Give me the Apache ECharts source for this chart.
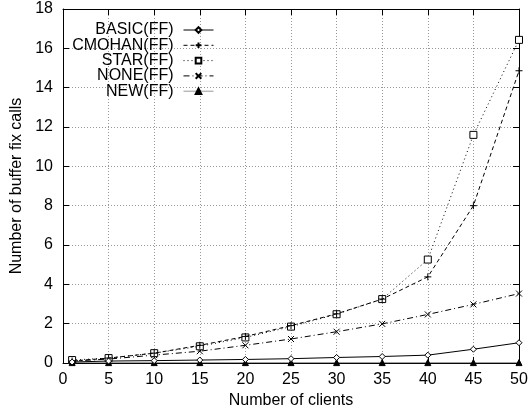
<!DOCTYPE html>
<html>
<head>
<meta charset="utf-8">
<script src="https://cdn.jsdelivr.net/npm/echarts@6/dist/echarts.min.js"></script>
<style>html,body{margin:0;padding:0;background:#fff;}#c{width:532px;height:409px;}</style>
</head>
<body>
<div id="c"></div>
<script>
var clients = [1, 5, 10, 15, 20, 25, 30, 35, 40, 45, 50];
var seriesNames = ['BASIC(FF)', 'CMOHAN(FF)', 'STAR(FF)', 'NONE(FF)', 'NEW(FF)'];
var basic  = [0.05, 0.10, 0.12, 0.15, 0.18, 0.22, 0.28, 0.33, 0.40, 0.70, 1.03];
var cmohan = [0.10, 0.25, 0.50, 0.90, 1.35, 1.90, 2.50, 3.25, 4.38, 8.00, 14.86];
var star   = [0.15, 0.25, 0.50, 0.85, 1.30, 1.85, 2.48, 3.25, 5.26, 11.60, 16.43];
var none   = [0.10, 0.20, 0.40, 0.60, 0.90, 1.22, 1.59, 1.99, 2.47, 2.98, 3.53];
var newv   = [0.02, 0.02, 0.02, 0.02, 0.02, 0.02, 0.02, 0.02, 0.02, 0.02, 0.02];
var xTicks = [0, 5, 10, 15, 20, 25, 30, 35, 40, 45, 50];
var yTicks = [0, 2, 4, 6, 8, 10, 12, 14, 16, 18];

function pairs(v) { return clients.map(function (c, i) { return [c, v[i]]; }); }

var FONT = 'Liberation Sans';
var FS = 16;
var plusPath = 'path://M0,5L10,5M5,0L5,10';
var crossPath = 'path://M0,0L10,10M10,0L0,10';

var styles = [
  { data: basic, type: 'solid', color: '#000', symbol: 'diamond', size: 6, fill: '#fff' },
  { data: cmohan, type: [4, 3], color: '#000', symbol: plusPath, size: 7, fill: 'none' },
  { data: star, type: [1, 3], color: '#000', symbol: 'rect', size: 7, fill: '#fff' },
  { data: none, type: [6, 3, 1, 3], color: '#000', symbol: crossPath, size: 6, fill: 'none' },
  { data: newv, type: 'solid', color: '#999', symbol: 'triangle', size: 6, fill: '#000' }
];

var series = styles.map(function (s, i) {
  return {
    name: seriesNames[i],
    type: 'line',
    xAxisIndex: 0, yAxisIndex: 0,
    data: pairs(s.data),
    symbol: s.symbol,
    symbolSize: s.size,
    showAllSymbol: true,
    animation: false,
    lineStyle: { color: s.color, width: 1, type: s.type },
    itemStyle: { color: s.fill, borderColor: '#000', borderWidth: 1 },
    z: 10 - i
  };
});

var legends = seriesNames.map(function (n, i) {
  return {
    data: [n],
    right: 318,
    top: 22 + i * 15.3,
    align: 'right',
    orient: 'vertical',
    itemWidth: 30,
    itemHeight: 7,
    padding: 0,
    selectedMode: false,
    lineStyle: { width: 1 },
    textStyle: { fontFamily: FONT, fontSize: FS, color: '#000', padding: [0, 5, 0, 0] }
  };
});

var tickLabel = function (v) { return String(v); };

var option = {
  animation: false,
  backgroundColor: '#fff',
  legend: legends,
  grid: { left: 63, top: 9, right: 13, bottom: 46, show: false, containLabel: false, outerBoundsMode: 'none' },
  xAxis: [
    {
      type: 'value', min: 0, max: 50, interval: 5, position: 'bottom',
      name: 'Number of clients', nameLocation: 'middle', nameGap: 22,
      nameTextStyle: { fontFamily: FONT, fontSize: FS, color: '#000' },
      axisLine: { show: true, lineStyle: { color: '#000', width: 1 } },
      axisTick: { show: true, inside: true, length: 6, lineStyle: { color: '#000' } },
      axisLabel: { fontFamily: FONT, fontSize: FS, color: '#000', margin: 9, formatter: tickLabel },
      splitLine: { show: true, lineStyle: { color: '#999', type: [1, 2], width: 1 } }
    },
    {
      type: 'value', min: 0, max: 50, interval: 5, position: 'top',
      axisLine: { show: true, onZero: false, lineStyle: { color: '#000', width: 1 } },
      axisTick: { show: true, inside: true, length: 6, lineStyle: { color: '#000' } },
      axisLabel: { show: false }, splitLine: { show: false }
    }
  ],
  yAxis: [
    {
      type: 'value', min: 0, max: 18, interval: 2, position: 'left',
      name: 'Number of buffer fix calls', nameLocation: 'middle', nameGap: 32, nameRotate: 90,
      nameTextStyle: { fontFamily: FONT, fontSize: FS, color: '#000' },
      axisLine: { show: true, lineStyle: { color: '#000', width: 1 } },
      axisTick: { show: true, inside: true, length: 6, lineStyle: { color: '#000' } },
      axisLabel: { fontFamily: FONT, fontSize: FS, color: '#000', margin: 10, formatter: tickLabel },
      splitLine: { show: true, lineStyle: { color: '#999', type: [1, 2], width: 1 } }
    },
    {
      type: 'value', min: 0, max: 18, interval: 2, position: 'right',
      axisLine: { show: true, onZero: false, lineStyle: { color: '#000', width: 1 } },
      axisTick: { show: true, inside: true, length: 6, lineStyle: { color: '#000' } },
      axisLabel: { show: false }, splitLine: { show: false }
    }
  ],
  series: series
};

var chart = echarts.init(document.getElementById('c'), null, { renderer: 'canvas' });
chart.setOption(option);
</script>
</body>
</html>
